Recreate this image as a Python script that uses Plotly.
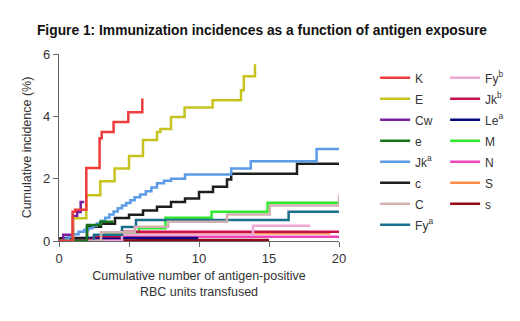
import plotly.graph_objects as go

# ---- data ----
K_x = [0, 0.97, 1.15, 1.95, 2.9, 3.05, 3.9, 4.95, 5.95]
K_y = [0, 0.94, 1.0, 2.34, 3.3, 3.5, 3.82, 4.13, 4.57]

E_x = [0, 1.0, 1.95, 2.95, 3.97, 5.0, 6.0, 7.0, 7.24, 8.0, 8.97, 10.97, 13.0, 13.2, 14.0]
E_y = [0, 0.73, 1.47, 1.92, 2.33, 2.73, 3.24, 3.5, 3.59, 3.98, 4.28, 4.52, 4.84, 5.29, 5.67]

Cw_x = [0, 0.3, 1.0, 1.3, 1.55, 1.8]
Cw_y = [0, 0.2, 0.8, 0.93, 1.25, 1.25]

e_x = [0, 2.0, 2.95, 3.9]
e_y = [0, 0.51, 0.62, 0.62]

Jka_x = [0, 0.3, 0.7, 1.0, 1.4, 1.8, 2.1, 2.4, 2.7, 3.0, 3.3, 3.6, 3.9, 4.2, 4.5, 4.8,
         5.1, 5.4, 5.8, 6.2, 6.6, 7.0, 7.5, 8.0, 9.0, 12.3, 13.7, 18.4, 20]
Jka_y = [0, 0.07, 0.14, 0.22, 0.3, 0.35, 0.41, 0.48, 0.56, 0.65, 0.75, 0.85, 0.95, 1.05,
         1.14, 1.22, 1.31, 1.4, 1.49, 1.6, 1.72, 1.85, 1.93, 2.0, 2.13, 2.33, 2.56, 2.95, 2.95]

c_x = [0, 0.1, 2.0, 3.0, 4.0, 5.0, 6.0, 7.0, 8.0, 9.0, 10.0, 11.0, 12.0, 12.3, 17.0, 20]
c_y = [0, 0.09, 0.46, 0.55, 0.74, 0.84, 0.98, 1.1, 1.25, 1.36, 1.57, 1.74, 1.97, 2.16, 2.48, 2.48]

C_x = [0, 3.0, 5.4, 7.8, 12.0, 15.05, 20]
C_y = [0, 0.28, 0.46, 0.62, 0.85, 1.14, 1.47]

Fya_x = [0, 2.5, 4.5, 5.5, 16.4, 20]
Fya_y = [0, 0.2, 0.45, 0.67, 0.94, 0.94]

Fyb_x = [0, 4.5, 13.86, 17.95]
Fyb_y = [0, 0.2, 0.49, 0.49]

Jkb_x = [0, 1.0, 2.5, 4.5, 20]
Jkb_y = [0, 0.05, 0.15, 0.3, 0.3]

Lea_x = [0, 0.5, 9.95]
Lea_y = [0, 0.1, 0.1]

M_x = [0, 1.9, 3.3, 5.7, 7.6, 10.9, 14.9, 20]
M_y = [0, 0.1, 0.25, 0.41, 0.75, 0.94, 1.23, 1.23]

N_x = [0, 2.0, 4.5, 20]
N_y = [0, 0.05, 0.14, 0.14]

S_x = [0, 3.0, 5.5, 19.4]
S_y = [0, 0.1, 0.25, 0.25]

s_x = [0, 2.0, 15.0]
s_y = [0, 0.03, 0.03]

col1 = [
    ("K", K_x, K_y, "#ee3b3b"),
    ("E", E_x, E_y, "#c6c31f"),
    ("Cw", Cw_x, Cw_y, "#7a1fa0"),
    ("e", e_x, e_y, "#17741a"),
    ("Jk<sup>a</sup>", Jka_x, Jka_y, "#5b9be8"),
    ("c", c_x, c_y, "#1e1e1e"),
    ("C", C_x, C_y, "#d2b0b0"),
    ("Fy<sup>a</sup>", Fya_x, Fya_y, "#1b6f8c"),
]
col2 = [
    ("Fy<sup>b</sup>", Fyb_x, Fyb_y, "#f0a6d6"),
    ("Jk<sup>b</sup>", Jkb_x, Jkb_y, "#c8104c"),
    ("Le<sup>a</sup>", Lea_x, Lea_y, "#0a0a80"),
    ("M", M_x, M_y, "#2eea2e"),
    ("N", N_x, N_y, "#ee45b8"),
    ("S", S_x, S_y, "#fb8f4a"),
    ("s", s_x, s_y, "#960816"),
]

FONT = "Liberation Sans, Arial, sans-serif"

fig = go.Figure()
# draw lower lines first so upper lines end on top
for leg, group in (("legend2", col2), ("legend", col1)):
    for name, xs, ys, color in reversed(group):
        fig.add_trace(go.Scatter(
            x=xs, y=ys, name=name, mode="lines",
            line=dict(color=color, width=2.5, shape="hv"),
            legend=leg, legendgroup=name,
        ))

order = [n for n, *_ in col1] + [n for n, *_ in col2]
for tr in fig.data:
    tr.legendrank = order.index(tr.name) + 1

legend_common = dict(
    font=dict(family=FONT, size=12, color="#333333"),
    bgcolor="rgba(0,0,0,0)", itemwidth=30, tracegroupgap=2,
    xanchor="left", yanchor="top", traceorder="grouped",
)

# page body has an 8px default margin: figure is sized/offset to compensate
fig.update_layout(
    width=512, height=313,
    margin=dict(l=51, r=181, t=46, b=80, autoexpand=False),
    paper_bgcolor="white", plot_bgcolor="white",
    title=dict(
        text="<b>Figure 1: Immunization incidences as a function of antigen exposure</b>",
        font=dict(family=FONT, size=13.8, color="#111111"),
        x=0.496, xref="container", xanchor="center",
        y=0.93, yref="container", yanchor="middle",
    ),
    showlegend=True,
    legend=dict(x=1.129, y=0.95, **legend_common),
    legend2=dict(x=1.379, y=0.95, **legend_common),
    xaxis=dict(
        range=[0, 20], tickvals=[0, 5, 10, 15, 20], ticks="outside", ticklen=5,
        tickcolor="#666666", showline=True, linecolor="#666666", linewidth=1.2,
        showgrid=False, zeroline=False, automargin=False,
        tickfont=dict(family=FONT, size=13, color="#333333"),
        title=dict(text="Cumulative number of antigen-positive<br>RBC units transfused",
                   font=dict(family=FONT, size=12.5, color="#333333"), standoff=6),
    ),
    yaxis=dict(
        range=[0, 6], tickvals=[0, 2, 4, 6], ticks="outside", ticklen=5,
        tickcolor="#666666", showline=True, linecolor="#666666", linewidth=1.2,
        showgrid=False, zeroline=False, automargin=False,
        tickfont=dict(family=FONT, size=13, color="#333333"),
        title=dict(text="Cumulative incidence (%)",
                   font=dict(family=FONT, size=12.5, color="#333333"), standoff=8),
    ),
)

fig.write_html("out.html")
